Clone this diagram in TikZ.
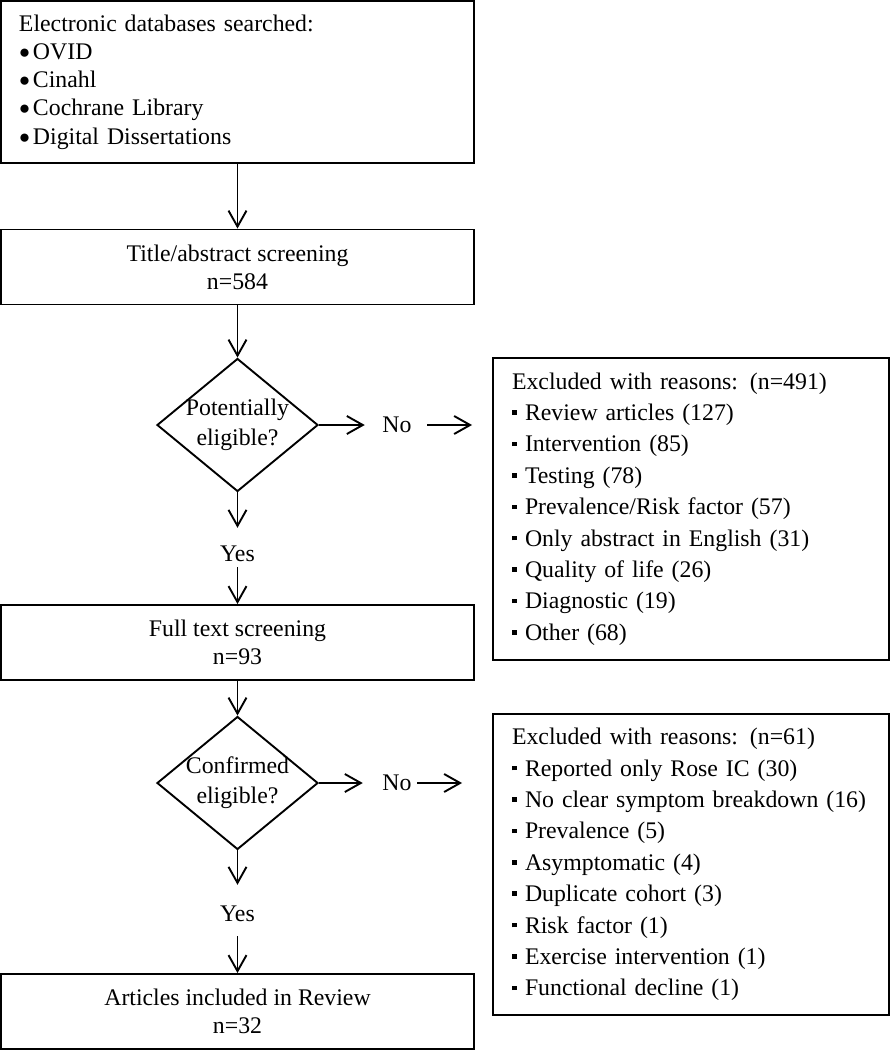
\documentclass[tikz,border=0pt]{standalone}
\usepackage{fontspec}
\setmainfont{Liberation Serif}
\usetikzlibrary{shapes.geometric,arrows.meta}

\newcommand{\rdbul}{\raisebox{1.2pt}{\fontsize{19}{19}\selectfont ●}\hspace{2.5pt}}
\newcommand{\sqbul}{\rule[5.7pt]{4.5pt}{4.5pt}\hspace{8.5pt}}

\begin{document}
\begin{tikzpicture}[x=1pt,y=1pt,
    box/.style={draw, line width=1.9pt, minimum width=473pt, minimum height=75pt,
        inner sep=0pt, align=center, font=\fontsize{23.8}{28}\selectfont},
    listbox/.style={draw, line width=1.9pt, inner xsep=19pt, inner ysep=0pt,
        text width=358pt, align=left, font=\fontsize{23.8}{31.4}\selectfont},
    decision/.style={draw, diamond, line width=1.9pt, minimum width=161pt,
        minimum height=133pt, inner sep=-12pt, align=center,
        font=\fontsize{23.8}{30}\selectfont},
    answer/.style={inner sep=0pt, font=\fontsize{23.8}{28}\selectfont},
    arr/.style={line width=1.9pt, -{Straight Barb[length=16pt,width=18pt]}}]

    \useasboundingbox (0,0) rectangle (891,-1050);

    \node[box, minimum height=162pt, inner xsep=18pt, text width=437pt, align=left,
        font=\fontsize{23.8}{28.3}\selectfont] (search) at (237.5,-82) {Electronic databases searched:\\
        \rdbul OVID\\
        \rdbul Cinahl\\
        \rdbul Cochrane Library\\
        \rdbul Digital Dissertations};

    \node[box] (title) at (237.5,-267) {Title/abstract screening\\n=584};

    \node[decision] (elig1) at (237.5,-425) {Potentially\\eligible?};
    \node[answer] (no1) at (397,-425) {No};

    \node[listbox, minimum height=302pt] (excl1) at (691,-509) {Excluded with reasons: (n=491)\\
        \sqbul Review articles (127)\\
        \sqbul Intervention (85)\\
        \sqbul Testing (78)\\
        \sqbul Prevalence/Risk factor (57)\\
        \sqbul Only abstract in English (31)\\
        \sqbul Quality of life (26)\\
        \sqbul Diagnostic (19)\\
        \sqbul Other (68)};

    \node[answer] (yes1) at (237.5,-553.5) {Yes};

    \node[box] (full) at (237.5,-642.5) {Full text screening\\n=93};

    \node[decision] (elig2) at (237.5,-783) {Confirmed\\eligible?};
    \node[answer] (no2) at (397,-783) {No};

    \node[listbox, minimum height=301pt] (excl2) at (691,-864.5) {Excluded with reasons: (n=61)\\
        \sqbul Reported only Rose IC (30)\\
        \sqbul No clear symptom breakdown (16)\\
        \sqbul Prevalence (5)\\
        \sqbul Asymptomatic (4)\\
        \sqbul Duplicate cohort (3)\\
        \sqbul Risk factor (1)\\
        \sqbul Exercise intervention (1)\\
        \sqbul Functional decline (1)};

    \node[answer] (yes2) at (237.5,-913.5) {Yes};

    \node[box] (incl) at (237.5,-1011.5) {Articles included in Review\\n=32};

    \draw[arr] (search) -- (title);
    \draw[arr] (title) -- (elig1);
    \draw[arr, shorten >=17.5pt] (elig1) -- (no1);
    \draw[arr, shorten <=15.5pt, shorten >=20pt] (no1) -- (no1 -| excl1.west);
    \draw[arr, shorten >=17.6pt] (elig1) -- (yes1);
    \draw[arr, shorten <=5.6pt] (yes1) -- (full);
    \draw[arr] (full) -- (elig2);
    \draw[arr, shorten >=19.5pt] (elig2) -- (no2);
    \draw[arr, shorten <=5.5pt, shorten >=30pt] (no2) -- (no2 -| excl2.west);
    \draw[arr, shorten >=20.6pt] (elig2) -- (yes2);
    \draw[arr, shorten <=14.6pt] (yes2) -- (incl);

\end{tikzpicture}
\end{document}
